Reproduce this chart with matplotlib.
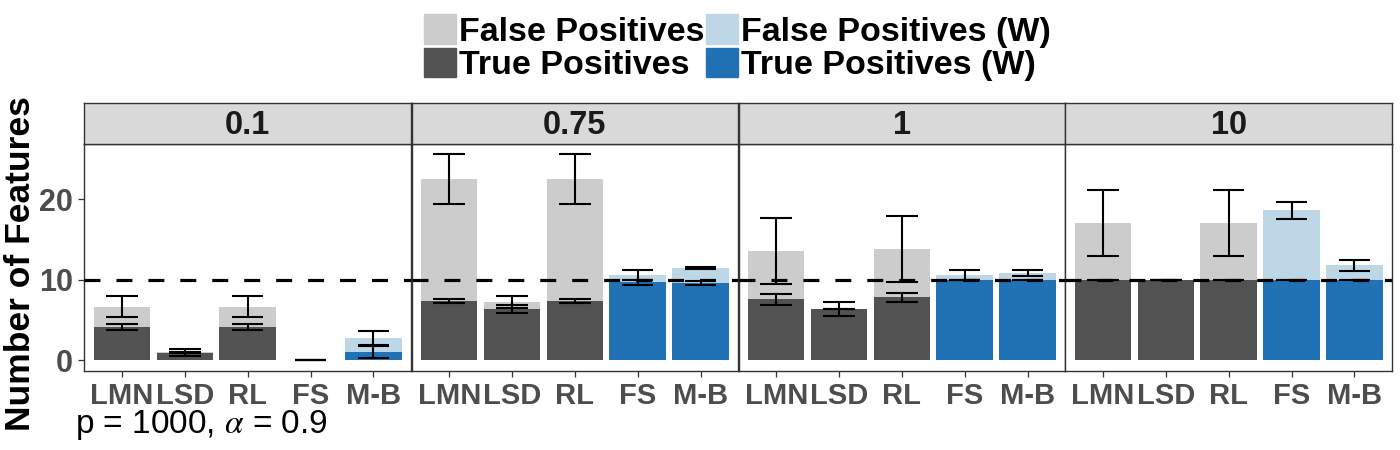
import matplotlib
matplotlib.use("Agg")
import matplotlib.pyplot as plt
from matplotlib.patches import Patch
import numpy as np

plt.rcParams['font.family'] = ['Liberation Sans', 'DejaVu Sans']
plt.rcParams['mathtext.fontset'] = 'stix'

# data
methods = ["LMN", "LSD", "RL", "FS", "M-B"]
panels = ["0.1", "0.75", "1", "10"]
weighted = [False, False, False, True, True]

total_mean = [[6.62, 0.98, 6.62, 0.0, 2.75],
              [22.5, 7.24, 22.5, 10.6, 11.45],
              [13.6, 6.4, 13.86, 10.63, 10.88],
              [17.06, 10.0, 17.06, 18.62, 11.82]]
total_sd = [[1.3, 0.46, 1.3, 0.0, 0.93],
            [3.13, 0.8, 3.13, 0.65, 0.18],
            [4.1, 0.0, 4.1, 0.63, 0.38],
            [4.1, 0.0, 4.1, 1.05, 0.68]]
tp_mean = [[4.15, 0.95, 4.15, 0.0, 1.05],
           [7.39, 6.4, 7.39, 9.7, 9.63],
           [7.57, 6.4, 7.84, 10.0, 10.0],
           [10.0, 10.0, 10.0, 10.0, 10.0]]
tp_sd = [[0.4, 0.05, 0.4, 0.0, 0.8],
         [0.27, 0.5, 0.27, 0.32, 0.23],
         [0.67, 0.87, 0.56, 0.0, 0.0],
         [0.0, 0.0, 0.0, 0.0, 0.0]]
true_k = 10

c_fp, c_tp = "#CCCCCC", "#525252"
c_fpw, c_tpw = "#BDD7E7", "#2171B5"
border = "#333333"
ticklab = "#4D4D4D"

W, H = 1400, 450
fig = plt.figure(figsize=(14, 4.5), dpi=100)

lefts = [84.3, 411.5, 738.5, 1065.3]
pw = 326.8
top_px, bot_px, strip_px = 144.3, 370.7, 103.3

x = np.arange(len(methods))
for i, name in enumerate(panels):
    l = lefts[i]
    ax = fig.add_axes([l / W, 1 - bot_px / H, pw / W, (bot_px - top_px) / H])
    st = fig.add_axes([l / W, 1 - top_px / H, pw / W, (top_px - strip_px) / H])

    tm = np.array(total_mean[i]); ts = np.array(total_sd[i])
    pm = np.array(tp_mean[i]); ps = np.array(tp_sd[i])
    fpcol = [c_fpw if w else c_fp for w in weighted]
    tpcol = [c_tpw if w else c_tp for w in weighted]
    ax.bar(x, tm, width=0.9, color=fpcol, zorder=1)
    ax.bar(x, pm, width=0.9, color=tpcol, zorder=2)
    ax.axhline(true_k, color="black", lw=2.3, ls=(0, (5.0, 5.0)), zorder=3)
    for m, s in ((tm, ts), (pm, ps)):
        ax.vlines(x, m - s, m + s, color="black", lw=1.5, zorder=4)
        ax.hlines(m - s, x - 0.25, x + 0.25, color="black", lw=1.5, zorder=4)
        ax.hlines(m + s, x - 0.25, x + 0.25, color="black", lw=1.5, zorder=4)

    ax.set_xlim(-0.6, 4.6)
    ax.set_ylim(-1.29, 26.8)
    ax.set_xticks(x)
    ax.set_xticklabels(methods, fontsize=21, fontweight="bold", color=ticklab)
    ax.tick_params(axis="x", length=4, width=0.9, color=border, pad=4)
    if i == 0:
        ax.set_yticks([0, 10, 20])
        ax.set_yticklabels(["0", "10", "20"], fontsize=22, fontweight="bold", color=ticklab)
        ax.tick_params(axis="y", length=4, width=0.9, color=border, pad=4)
    else:
        ax.set_yticks([])
    for sp in ax.spines.values():
        sp.set_color(border)
        sp.set_linewidth(1.0)

    st.set_facecolor("#D9D9D9")
    st.set_xticks([]); st.set_yticks([])
    for sp in st.spines.values():
        sp.set_color(border)
        sp.set_linewidth(1.0)
    st.text(0.5, 0.45, name, ha="center", va="center", fontsize=23.5,
            fontweight="bold", color="#1A1A1A", transform=st.transAxes)

fig.text(20.5 / W, 1 - 263.5 / H, "Number of Features", rotation=90,
         ha="center", va="center", fontsize=25.5, fontweight="bold")

handles = [Patch(color=c_fp), Patch(color=c_tp), Patch(color=c_fpw), Patch(color=c_tpw)]
labels = ["False Positives", "True Positives", "False Positives (W)", "True Positives (W)"]
fig.legend(handles, labels, ncol=2, loc="upper center", bbox_to_anchor=(0.5266, 0.968),
           frameon=False, prop={"size": 24.5, "weight": "bold"},
           handlelength=0.94, handleheight=0.94, handletextpad=0.08,
           columnspacing=0.05, labelspacing=0.0, borderpad=0, borderaxespad=0)

fig.text(75 / W, 1 - 433 / H, r"p = 1000, $\alpha$ = 0.9", fontsize=24,
         ha="left", va="baseline")

fig.savefig("out.png", dpi=100)
